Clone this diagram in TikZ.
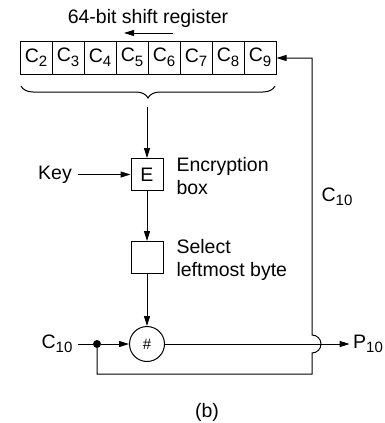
\documentclass[tikz,border=0pt]{standalone}
\usepackage{fontspec}
\setmainfont{Liberation Sans}
\usetikzlibrary{arrows.meta,decorations.pathreplacing}
\newcommand{\idx}[1]{\raisebox{-4.5pt}{\fontsize{15}{15}\selectfont #1}}

\begin{document}
\begin{tikzpicture}[
    x=1pt, y=-1pt,
    font=\fontsize{19.5}{23}\selectfont,
    line/.style={line width=1pt},
    cell/.style={draw, line, minimum width=32pt, minimum height=33pt, inner sep=0pt},
    box/.style={draw, line, minimum width=32pt, minimum height=32pt, inner sep=0pt},
    arrow/.style={-{Triangle[length=10pt,width=6pt]}, line}
]
    \useasboundingbox (0,0) rectangle (385,423);

    % Shift register
    \node (title) at (148,18) {64-bit shift register};
    \coordinate (shiftstart) at (173,33);
    \coordinate (shiftend) at (124,33);
    \draw[arrow] (shiftstart) -- (shiftend);
    \foreach \i [count=\k from 0] in {2,...,9}
        \node[cell] (c\i) at (36+32*\k,57.5) {C\idx{\i}};

    % Brace
    \coordinate (braceleft) at (21,86);
    \coordinate (braceright) at (275,86);
    \coordinate (bracetip) at (147,107);
    \draw[line, decorate, decoration={brace, mirror, amplitude=12pt}] (braceleft) -- (braceright);

    % Encryption box
    \node[box] (enc) at (147,174.5) {E};
    \node[anchor=west, align=left] (enclabel) at (173,176) {Encryption\\box};
    \node[inner sep=6pt] (key) at (55,174.5) {Key};
    \draw[arrow] (bracetip) -- (enc);
    \draw[arrow] (key) -- (enc);

    % Select box
    \node[box] (sel) at (147,257.5) {};
    \node[anchor=west, align=left] (sellabel) at (173,260) {Select\\leftmost byte};
    \draw[arrow] (enc) -- (sel);

    % Exclusive or
    \node[draw, line, circle, minimum size=35pt, inner sep=0pt] (xor) at (147,344) {\fontsize{15}{15}\selectfont\#};
    \draw[arrow] (sel) -- (xor);

    % Input and feedback
    \node[inner sep=5pt] (cin) at (57,344) {C\idx{10}};
    \node[circle, fill, inner sep=0pt, minimum size=8pt] (split) at (97,344) {};
    \draw[line] (cin) -- (split);
    \draw[arrow] (split) -- (xor);
    \coordinate (loopcorner) at (312,374);
    \coordinate (bumpbottom) at (312,353);
    \coordinate (fbtop) at (312,58);
    \draw[arrow] (split) |- (loopcorner) -- (bumpbottom)
        arc[start angle=90, end angle=-90, radius=9] -- (fbtop) -- (fbtop -| c9.east);
    \node (cfb) at (337,197) {C\idx{10}};

    % Output
    \node (pout) at (368,344) {P\idx{10}};
    \draw[arrow] (xor) -- (pout);

    \node (caption) at (207,412) {(b)};
\end{tikzpicture}
\end{document}
